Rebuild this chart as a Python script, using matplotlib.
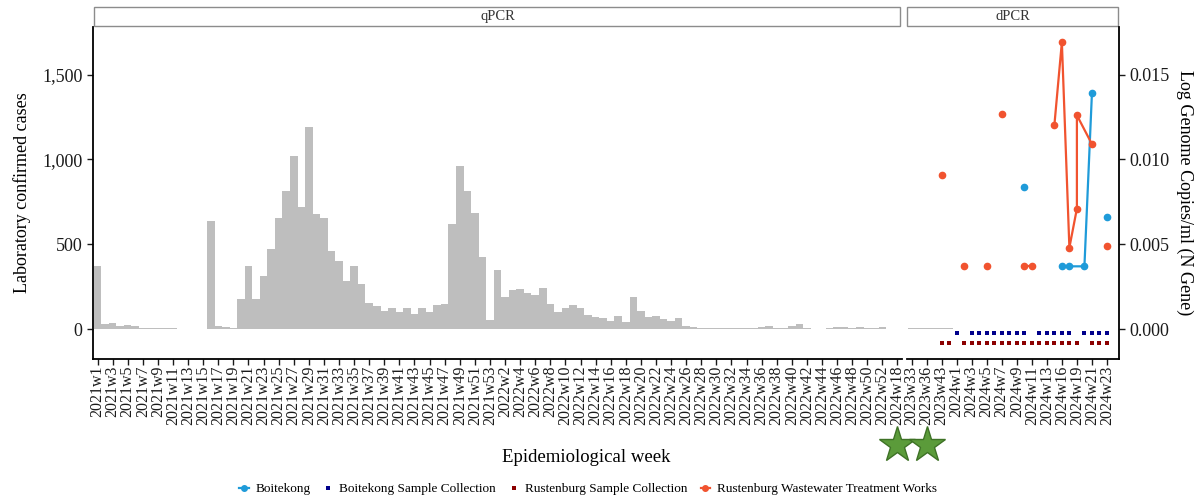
import matplotlib.pyplot as plt
from matplotlib.lines import Line2D
from matplotlib.patches import Rectangle
from matplotlib.transforms import blended_transform_factory

plt.rcParams['font.family'] = ['Liberation Serif', 'DejaVu Serif']

# qPCR panel: weekly laboratory confirmed cases
qpcr_weeks = ([f"2021w{i}" for i in range(1, 54)]
              + [f"2022w{i}" for i in range(1, 53)]
              + ["2023w1", "2024w18"])
qpcr_cases = [373, 29, 35, 20, 22, 16, 4, 8, 4, 6, 4, 2, 2, 2, 2, 637, 16, 12, 8, 180,
              373, 176, 314, 471, 657, 816, 1022, 718, 1192, 679, 653, 461, 400, 284, 369,
              265, 153, 139, 108, 122, 100, 122, 92, 127, 98, 143, 147, 622, 961, 812,
              686, 426, 51,
              347, 192, 231, 235, 212, 202, 245, 149, 98, 124, 141, 126, 82, 73, 65, 45,
              78, 41, 190, 106, 73, 75, 61, 49, 67, 20, 12, 8, 4, 4, 4, 4, 4, 6, 4, 14,
              16, 8, 8, 16, 31, 4, 2, 2, 4, 10, 12, 8, 10, 6, 6, 12,
              2, 2]

# dPCR panel weeks and the cases reported in them
dpcr_weeks = ["2023w33", "2023w35", "2023w36", "2023w40", "2023w43", "2023w48",
              "2024w1", "2024w2", "2024w3", "2024w4", "2024w5", "2024w6", "2024w7",
              "2024w8", "2024w9", "2024w10", "2024w11", "2024w12", "2024w13", "2024w15",
              "2024w16", "2024w17", "2024w19", "2024w20", "2024w21", "2024w22",
              "2024w23", "2024w24"]
dpcr_cases = [4, 4, 4, 4, 4, 4, 1, 1, 1, 3, 1, 1, 3, 1, 1, 1, 1, 3, 1, 1,
              1, 1, 1, 1, 1, 1, 1, 1]

# wastewater results (log genome copies/ml, N gene); points sharing a run id are joined
boit_weeks = ["2024w10", "2024w16", "2024w17", "2024w20", "2024w21", "2024w23"]
boit_vals = [0.0084, 0.0037, 0.0037, 0.0037, 0.0139, 0.0066]
boit_runs = [0, 1, 1, 1, 1, 2]

rust_weeks = ["2023w43", "2024w2", "2024w5", "2024w7", "2024w10", "2024w11", "2024w15",
              "2024w16", "2024w17", "2024w19", "2024w19", "2024w21", "2024w23"]
rust_vals = [0.0091, 0.0037, 0.0037, 0.0127, 0.0037, 0.0037, 0.0120,
             0.0169, 0.0048, 0.0071, 0.0126, 0.0109, 0.0049]
rust_runs = [0, 1, 2, 3, 4, 4, 5, 5, 5, 5, 5, 5, 6]

# sample collection weeks, drawn just under zero
boit_sample_weeks = ["2024w1", "2024w3", "2024w4", "2024w5", "2024w6", "2024w7", "2024w8",
                     "2024w9", "2024w10", "2024w12", "2024w13", "2024w15", "2024w16",
                     "2024w17", "2024w20", "2024w21", "2024w22", "2024w23"]
rust_sample_weeks = ["2023w43", "2023w48", "2024w2", "2024w3", "2024w4", "2024w5", "2024w6",
                     "2024w7", "2024w8", "2024w9", "2024w10", "2024w11", "2024w12",
                     "2024w13", "2024w15", "2024w16", "2024w17", "2024w19", "2024w21",
                     "2024w22", "2024w23"]
boit_sample_level = -0.00025
rust_sample_level = -0.00084

# weeks flagged with a star under the axis
star_weeks = ["2024w18", "2023w36"]

SCALE = 1e5          # cases per genome-copy unit on the secondary axis
YLIM = (-176, 1780)

BAR = '#bebebe'
BOIT = '#1f9bd9'
RUST = '#f1532f'
BOIT_S = '#00008b'
RUST_S = '#8b0000'

W, H = 1203, 499
fig = plt.figure(figsize=(W / 100, H / 100), dpi=100)
axl = fig.add_axes([93 / W, 1 - 359 / H, 809 / W, 332 / H])
axr = fig.add_axes([907 / W, 1 - 359 / H, 212 / W, 332 / H])


def style_x(ax, weeks, labelled):
    ax.set_xlim(-0.6, len(weeks) - 0.4)
    ax.set_xticks(labelled)
    ax.set_xticklabels([weeks[i] for i in labelled], rotation=90, fontsize=11.5)
    ax.tick_params(axis='x', length=4, width=1, pad=1, colors='#1a1a1a')
    ax.spines['bottom'].set_linewidth(1.3)


# qPCR panel
xl = range(len(qpcr_weeks))
axl.bar(xl, qpcr_cases, width=1.0, color=BAR)
axl.set_ylim(*YLIM)
style_x(axl, qpcr_weeks, list(range(0, len(qpcr_weeks) - 1, 2)) + [len(qpcr_weeks) - 1])
axl.set_yticks([0, 500, 1000, 1500])
axl.set_yticklabels([f"{v:,}" for v in [0, 500, 1000, 1500]], fontsize=13)
axl.tick_params(axis='y', length=4, width=1, colors='#1a1a1a')
for s in ['top', 'right']:
    axl.spines[s].set_visible(False)
axl.spines['left'].set_linewidth(1.3)

# dPCR panel
xr = range(len(dpcr_weeks))
axr.bar(xr, dpcr_cases, width=1.0, color=BAR)
axr.set_ylim(*YLIM)
style_x(axr, dpcr_weeks, list(range(0, len(dpcr_weeks) - 1, 2)))
axr.set_yticks([])
for s in ['top', 'left', 'right']:
    axr.spines[s].set_visible(False)

ax2 = axr.twinx()
ax2.set_ylim(YLIM[0] / SCALE, YLIM[1] / SCALE)
ax2.set_yticks([0, 0.005, 0.010, 0.015])
ax2.set_yticklabels([f"{v:.3f}" for v in [0, 0.005, 0.010, 0.015]], fontsize=13)
ax2.tick_params(axis='y', length=4, width=1, colors='#1a1a1a')
for s in ['top', 'left', 'bottom']:
    ax2.spines[s].set_visible(False)
ax2.spines['right'].set_linewidth(1.3)

pos = {w: i for i, w in enumerate(dpcr_weeks)}


def draw_series(weeks, vals, runs, color):
    for r in sorted(set(runs)):
        xs = [pos[w] for w, g in zip(weeks, runs) if g == r]
        ys = [v for v, g in zip(vals, runs) if g == r]
        ax2.plot(xs, ys, color=color, lw=1.6, marker='o', ms=4.5, zorder=4)


draw_series(boit_weeks, boit_vals, boit_runs, BOIT)
draw_series(rust_weeks, rust_vals, rust_runs, RUST)

ax2.plot([pos[w] for w in boit_sample_weeks], [boit_sample_level] * len(boit_sample_weeks),
         ls='none', marker='s', ms=2.4, mew=0, color=BOIT_S)
ax2.plot([pos[w] for w in rust_sample_weeks], [rust_sample_level] * len(rust_sample_weeks),
         ls='none', marker='s', ms=2.4, mew=0, color=RUST_S)

# facet strips
for ax, title in [(axl, 'qPCR'), (axr, 'dPCR')]:
    ax.add_patch(Rectangle((0.001, 1.004), 0.996, 0.057, transform=ax.transAxes,
                           facecolor='white', edgecolor='#8c8c8c', lw=1.0, clip_on=False))
    ax.text(0.5, 1.032, title, transform=ax.transAxes, ha='center', va='center',
            fontsize=10.5, color='#333333')

# stars under the flagged weeks
star_axes = [(axl, qpcr_weeks.index(star_weeks[0])), (axr, pos[star_weeks[1]])]
for ax, xi in star_axes:
    tr = blended_transform_factory(ax.transData, ax.transAxes)
    ax.plot([xi], [-0.26], marker='*', ms=27, color='#5b9b3a', mec='#3e7226', mew=1,
            transform=tr, clip_on=False)

fig.text(22 / W, 1 - 193 / H, 'Laboratory confirmed cases', rotation=90,
         ha='center', va='center', fontsize=13)
fig.text(1185 / W, 1 - 193 / H, 'Log Genome Copies/ml (N Gene)', rotation=270,
         ha='center', va='center', fontsize=13)
fig.text(586 / W, 1 - 457 / H, 'Epidemiological week', ha='center', va='center', fontsize=13.5)

handles = [
    Line2D([], [], color=BOIT, lw=1.6, marker='o', ms=4),
    Line2D([], [], ls='none', marker='s', ms=2.6, mew=0, color=BOIT_S),
    Line2D([], [], ls='none', marker='s', ms=2.6, mew=0, color=RUST_S),
    Line2D([], [], color=RUST, lw=1.6, marker='o', ms=4),
]
labels = ['Boitekong', 'Boitekong Sample Collection', 'Rustenburg Sample Collection',
          'Rustenburg Wastewater Treatment Works']
fig.legend(handles, labels, loc='center', bbox_to_anchor=(588 / W, 1 - 489 / H), ncol=4,
           frameon=False, fontsize=9.5, handlelength=0.7, handletextpad=0.5,
           columnspacing=1.0)

fig.savefig('out.png', dpi=100)
